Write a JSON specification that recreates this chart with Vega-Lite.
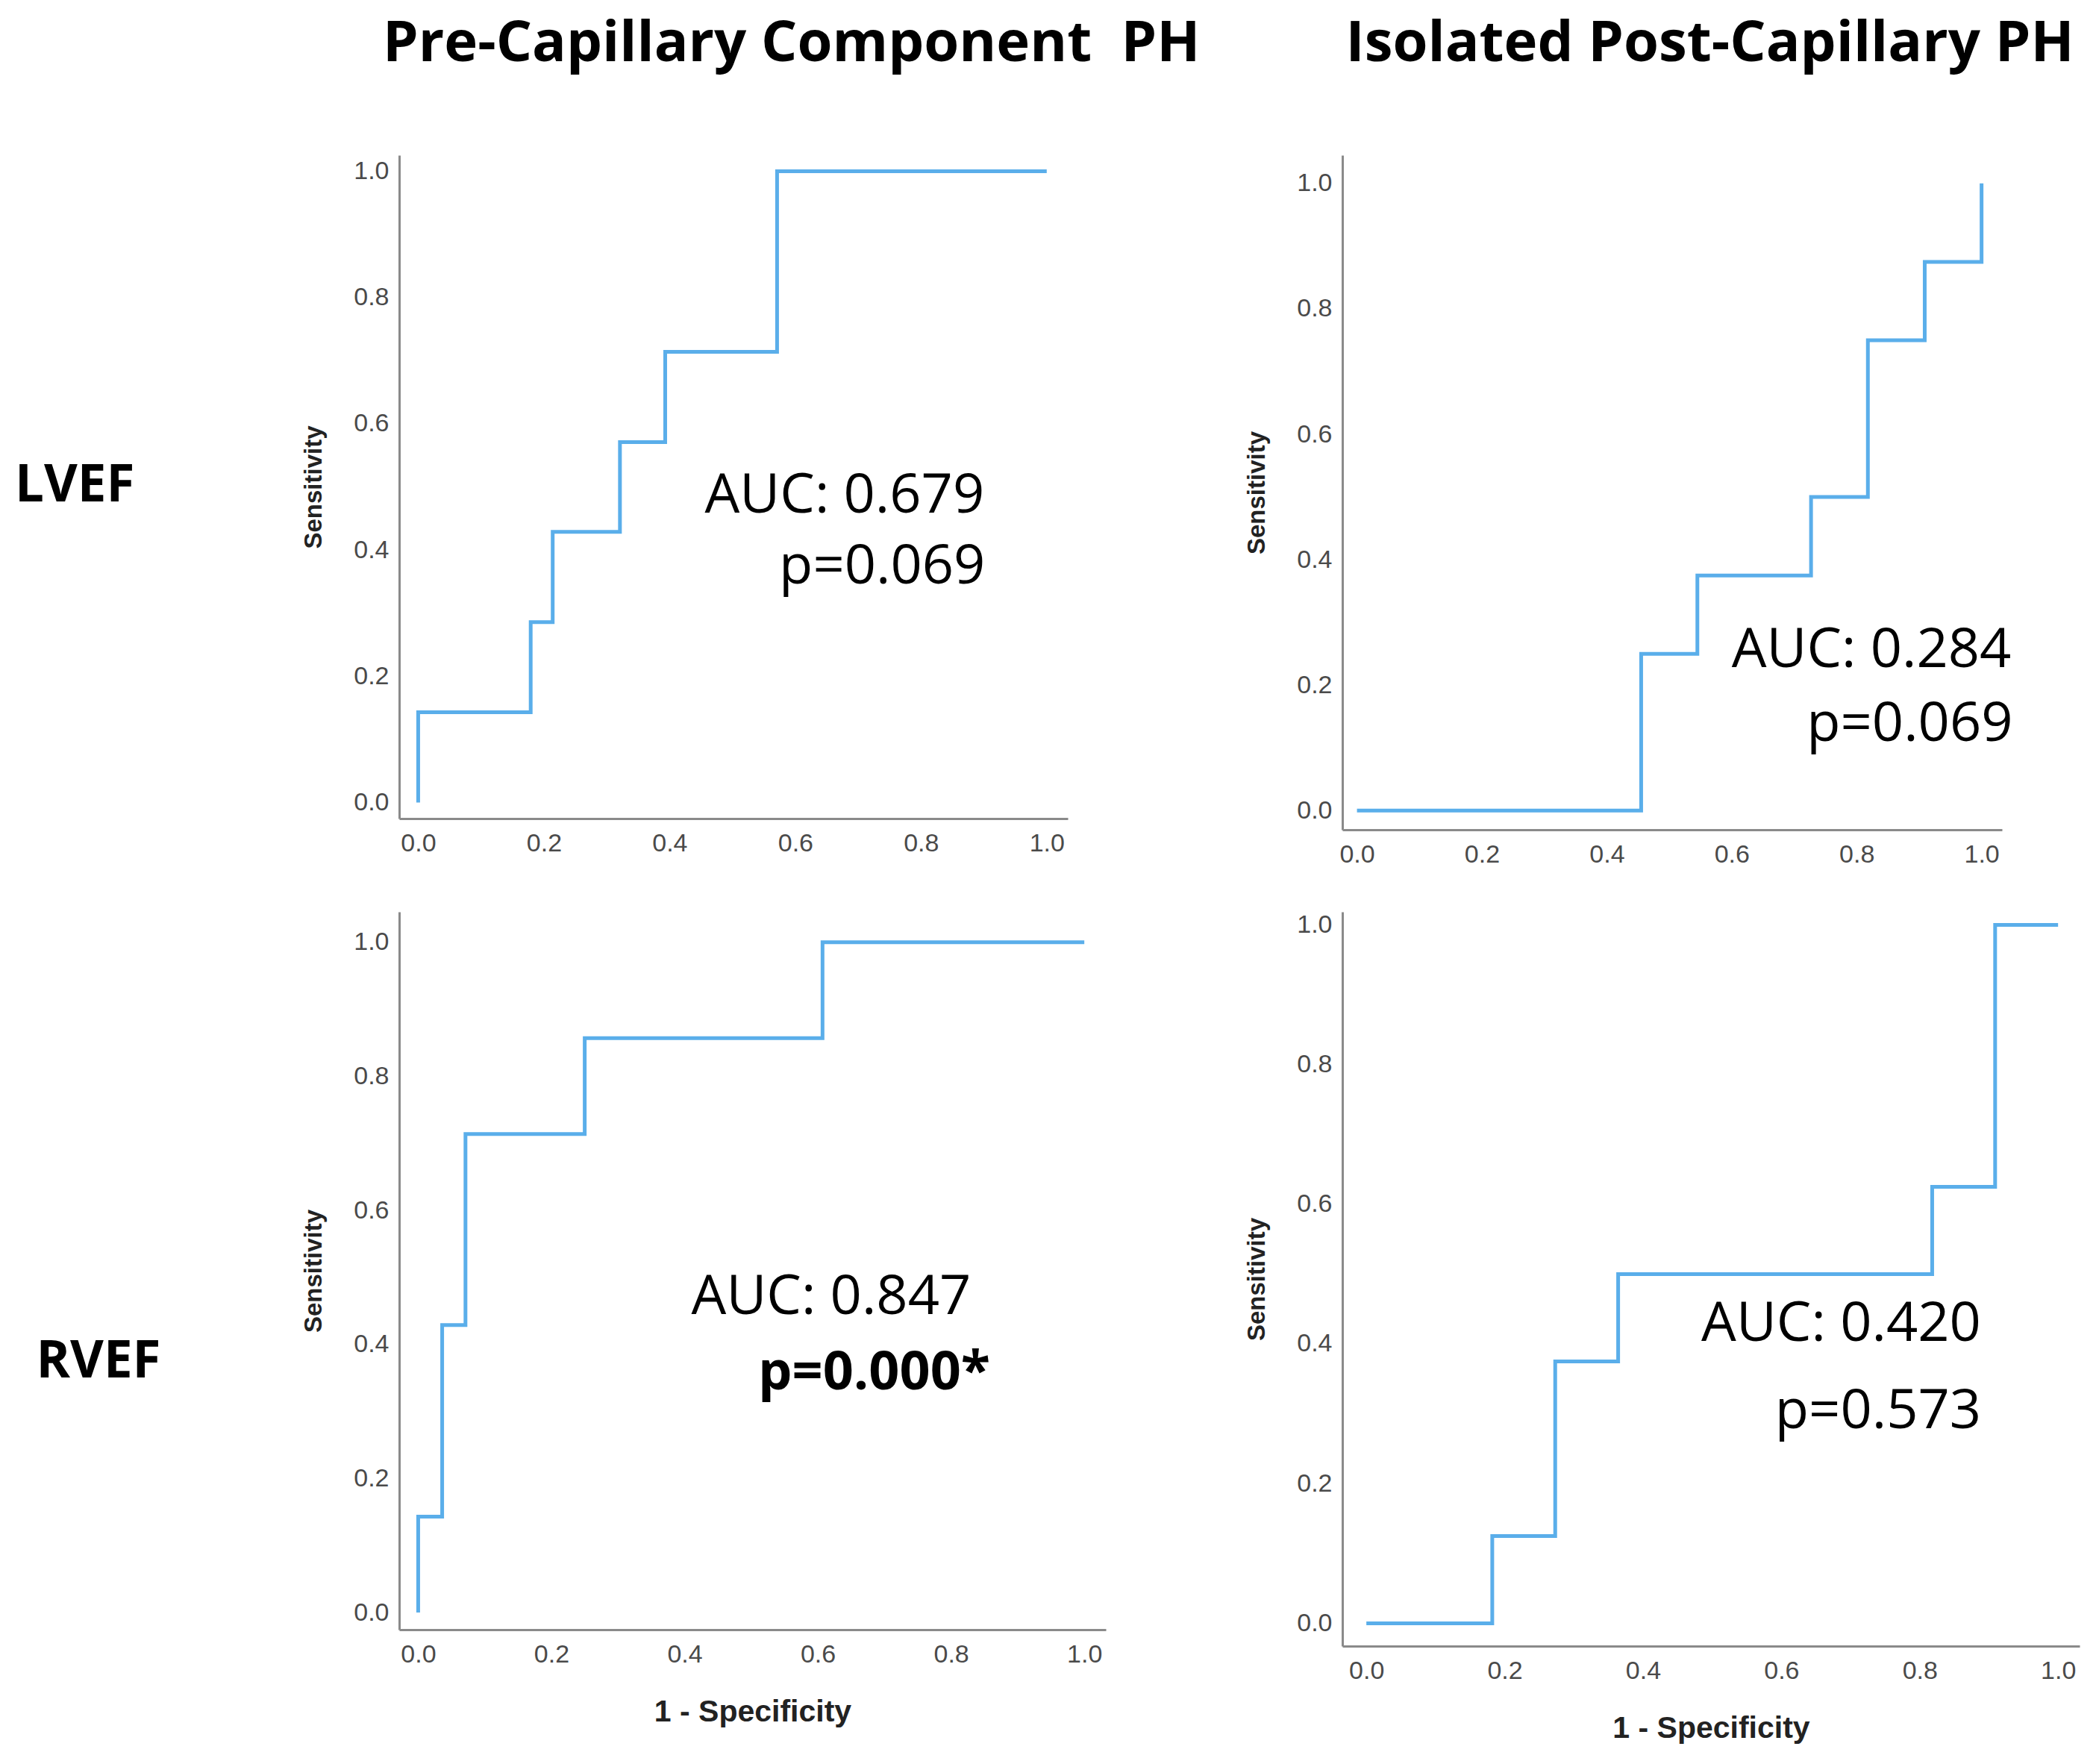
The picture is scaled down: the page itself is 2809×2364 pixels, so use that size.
{
  "$schema": "https://vega.github.io/schema/vega-lite/v6.json",
  "background": "white",
  "autosize": {"type": "pad"},
  "padding": {"left": 19, "top": 20, "right": 5, "bottom": 5},
  "datasets": {
    "roc": [
      {"panel": "TL", "order": 1, "fpr": 0, "tpr": 0},
      {"panel": "TL", "order": 2, "fpr": 0, "tpr": 0.143},
      {"panel": "TL", "order": 3, "fpr": 0.179, "tpr": 0.143},
      {"panel": "TL", "order": 4, "fpr": 0.179, "tpr": 0.286},
      {"panel": "TL", "order": 5, "fpr": 0.214, "tpr": 0.286},
      {"panel": "TL", "order": 6, "fpr": 0.214, "tpr": 0.429},
      {"panel": "TL", "order": 7, "fpr": 0.321, "tpr": 0.429},
      {"panel": "TL", "order": 8, "fpr": 0.321, "tpr": 0.571},
      {"panel": "TL", "order": 9, "fpr": 0.393, "tpr": 0.571},
      {"panel": "TL", "order": 10, "fpr": 0.393, "tpr": 0.714},
      {"panel": "TL", "order": 11, "fpr": 0.571, "tpr": 0.714},
      {"panel": "TL", "order": 12, "fpr": 0.571, "tpr": 1},
      {"panel": "TL", "order": 13, "fpr": 1, "tpr": 1},
      {"panel": "TR", "order": 1, "fpr": 0, "tpr": 0},
      {"panel": "TR", "order": 2, "fpr": 0.455, "tpr": 0},
      {"panel": "TR", "order": 3, "fpr": 0.455, "tpr": 0.25},
      {"panel": "TR", "order": 4, "fpr": 0.545, "tpr": 0.25},
      {"panel": "TR", "order": 5, "fpr": 0.545, "tpr": 0.375},
      {"panel": "TR", "order": 6, "fpr": 0.727, "tpr": 0.375},
      {"panel": "TR", "order": 7, "fpr": 0.727, "tpr": 0.5},
      {"panel": "TR", "order": 8, "fpr": 0.818, "tpr": 0.5},
      {"panel": "TR", "order": 9, "fpr": 0.818, "tpr": 0.75},
      {"panel": "TR", "order": 10, "fpr": 0.909, "tpr": 0.75},
      {"panel": "TR", "order": 11, "fpr": 0.909, "tpr": 0.875},
      {"panel": "TR", "order": 12, "fpr": 1, "tpr": 0.875},
      {"panel": "TR", "order": 13, "fpr": 1, "tpr": 1},
      {"panel": "BL", "order": 1, "fpr": 0, "tpr": 0},
      {"panel": "BL", "order": 2, "fpr": 0, "tpr": 0.143},
      {"panel": "BL", "order": 3, "fpr": 0.036, "tpr": 0.143},
      {"panel": "BL", "order": 4, "fpr": 0.036, "tpr": 0.429},
      {"panel": "BL", "order": 5, "fpr": 0.071, "tpr": 0.429},
      {"panel": "BL", "order": 6, "fpr": 0.071, "tpr": 0.714},
      {"panel": "BL", "order": 7, "fpr": 0.25, "tpr": 0.714},
      {"panel": "BL", "order": 8, "fpr": 0.25, "tpr": 0.857},
      {"panel": "BL", "order": 9, "fpr": 0.607, "tpr": 0.857},
      {"panel": "BL", "order": 10, "fpr": 0.607, "tpr": 1},
      {"panel": "BL", "order": 11, "fpr": 1, "tpr": 1},
      {"panel": "BR", "order": 1, "fpr": 0, "tpr": 0},
      {"panel": "BR", "order": 2, "fpr": 0.182, "tpr": 0},
      {"panel": "BR", "order": 3, "fpr": 0.182, "tpr": 0.125},
      {"panel": "BR", "order": 4, "fpr": 0.273, "tpr": 0.125},
      {"panel": "BR", "order": 5, "fpr": 0.273, "tpr": 0.375},
      {"panel": "BR", "order": 6, "fpr": 0.364, "tpr": 0.375},
      {"panel": "BR", "order": 7, "fpr": 0.364, "tpr": 0.5},
      {"panel": "BR", "order": 8, "fpr": 0.818, "tpr": 0.5},
      {"panel": "BR", "order": 9, "fpr": 0.818, "tpr": 0.625},
      {"panel": "BR", "order": 10, "fpr": 0.909, "tpr": 0.625},
      {"panel": "BR", "order": 11, "fpr": 0.909, "tpr": 1},
      {"panel": "BR", "order": 12, "fpr": 1, "tpr": 1}
    ],
    "notes": [
      {"panel": "TL", "header": "Pre-Capillary Component\u00a0 PH", "row": "LVEF", "auc": "AUC: 0.679", "p": "p=0.069"},
      {"panel": "TR", "header": "Isolated Post-Capillary PH", "row": "", "auc": "AUC: 0.284", "p": "p=0.069"},
      {"panel": "BL", "header": "", "row": "RVEF", "auc": "AUC: 0.847", "p": "p=0.000*"},
      {"panel": "BR", "header": "", "row": "", "auc": "AUC: 0.420", "p": "p=0.573"}
    ]
  },
  "config": {
    "view": {"stroke": null},
    "axis": {
      "domainColor": "#8a8a8a", "domainWidth": 3, "ticks": false, "tickSize": 0, "grid": false,
      "labelColor": "#4a4a4a", "labelFont": "Liberation Sans", "labelFontSize": 34,
      "labelFlush": false, "labelOverlap": false, "labelBound": false,
      "titleFont": "Liberation Sans", "titleFontWeight": "bold", "titleColor": "#222222"
    },
    "axisX": {"labelPadding": 16, "titleFontSize": 41, "titlePadding": 40},
    "axisY": {"labelPadding": 14, "titleFontSize": 33, "titlePadding": 36}
  },
  "columns": 2,
  "spacing": {"row": 110, "column": 317},
  "bounds": "flush",
  "align": "each",
  "concat": [
    {
      "width": 896, "height": 889,
      "layer": [
        {
          "data": {"name": "roc"},
          "transform": [{"filter": "datum.panel === 'TL'"}],
          "mark": {"type": "line", "color": "#5aaeea", "strokeWidth": 5},
          "encoding": {
            "x": {"field": "fpr", "type": "quantitative", "scale": {"domain": [-0.0302, 1.0335], "nice": false, "zero": false}, "axis": {"values": [0, 0.2, 0.4, 0.6, 0.8, 1], "format": ".1f", "title": null}},
            "y": {"field": "tpr", "type": "quantitative", "scale": {"domain": [-0.0253, 1.0255], "nice": false, "zero": false}, "axis": {"values": [0, 0.2, 0.4, 0.6, 0.8, 1], "format": ".1f", "title": "Sensitivity"}},
            "order": {"field": "order"}
          }
        },
        {
          "data": {"name": "notes"},
          "transform": [{"filter": "datum.panel === 'TL'"}],
          "mark": {"type": "text", "font": "Open Sans", "fontWeight": "bold", "fontSize": 76, "align": "center", "baseline": "alphabetic", "color": "#000000"},
          "encoding": {
            "x": {"datum": 0.594, "type": "quantitative", "scale": {"domain": [-0.0302, 1.0335], "nice": false, "zero": false}, "axis": {"values": [0, 0.2, 0.4, 0.6, 0.8, 1], "format": ".1f", "title": null}},
            "y": {"datum": 1.1745, "type": "quantitative", "scale": {"domain": [-0.0253, 1.0255], "nice": false, "zero": false}, "axis": {"values": [0, 0.2, 0.4, 0.6, 0.8, 1], "format": ".1f", "title": "Sensitivity"}},
            "text": {"field": "header"}
          }
        },
        {
          "data": {"name": "notes"},
          "transform": [{"filter": "datum.panel === 'TL'"}],
          "mark": {"type": "text", "font": "Open Sans", "fontWeight": "bold", "fontSize": 69, "align": "center", "baseline": "alphabetic", "color": "#000000"},
          "encoding": {
            "x": {"datum": -0.5465, "type": "quantitative", "scale": {"domain": [-0.0302, 1.0335], "nice": false, "zero": false}, "axis": {"values": [0, 0.2, 0.4, 0.6, 0.8, 1], "format": ".1f", "title": null}},
            "y": {"datum": 0.477, "type": "quantitative", "scale": {"domain": [-0.0253, 1.0255], "nice": false, "zero": false}, "axis": {"values": [0, 0.2, 0.4, 0.6, 0.8, 1], "format": ".1f", "title": "Sensitivity"}},
            "text": {"field": "row"}
          }
        },
        {
          "data": {"name": "notes"},
          "transform": [{"filter": "datum.panel === 'TL'"}],
          "mark": {"type": "text", "font": "Open Sans", "fontSize": 74, "align": "center", "baseline": "alphabetic", "color": "#000000"},
          "encoding": {
            "x": {"datum": 0.6784, "type": "quantitative", "scale": {"domain": [-0.0302, 1.0335], "nice": false, "zero": false}, "axis": {"values": [0, 0.2, 0.4, 0.6, 0.8, 1], "format": ".1f", "title": null}},
            "y": {"datum": 0.4596, "type": "quantitative", "scale": {"domain": [-0.0253, 1.0255], "nice": false, "zero": false}, "axis": {"values": [0, 0.2, 0.4, 0.6, 0.8, 1], "format": ".1f", "title": "Sensitivity"}},
            "text": {"field": "auc"}
          }
        },
        {
          "data": {"name": "notes"},
          "transform": [{"filter": "datum.panel === 'TL'"}],
          "mark": {"type": "text", "font": "Open Sans", "fontSize": 74, "align": "center", "baseline": "alphabetic", "color": "#000000"},
          "encoding": {
            "x": {"datum": 0.7382, "type": "quantitative", "scale": {"domain": [-0.0302, 1.0335], "nice": false, "zero": false}, "axis": {"values": [0, 0.2, 0.4, 0.6, 0.8, 1], "format": ".1f", "title": null}},
            "y": {"datum": 0.3468, "type": "quantitative", "scale": {"domain": [-0.0253, 1.0255], "nice": false, "zero": false}, "axis": {"values": [0, 0.2, 0.4, 0.6, 0.8, 1], "format": ".1f", "title": "Sensitivity"}},
            "text": {"field": "p"}
          }
        }
      ]
    },
    {
      "width": 884, "height": 904,
      "layer": [
        {
          "data": {"name": "roc"},
          "transform": [{"filter": "datum.panel === 'TR'"}],
          "mark": {"type": "line", "color": "#5aaeea", "strokeWidth": 5},
          "encoding": {
            "x": {"field": "fpr", "type": "quantitative", "scale": {"domain": [-0.0234, 1.0327], "nice": false, "zero": false}, "axis": {"values": [0, 0.2, 0.4, 0.6, 0.8, 1], "format": ".1f", "title": null}},
            "y": {"field": "tpr", "type": "quantitative", "scale": {"domain": [-0.0305, 1.045], "nice": false, "zero": false}, "axis": {"values": [0, 0.2, 0.4, 0.6, 0.8, 1], "format": ".1f", "title": "Sensitivity"}},
            "order": {"field": "order"}
          }
        },
        {
          "data": {"name": "notes"},
          "transform": [{"filter": "datum.panel === 'TR'"}],
          "mark": {"type": "text", "font": "Open Sans", "fontWeight": "bold", "fontSize": 76, "align": "center", "baseline": "alphabetic", "color": "#000000"},
          "encoding": {
            "x": {"datum": 0.565, "type": "quantitative", "scale": {"domain": [-0.0234, 1.0327], "nice": false, "zero": false}, "axis": {"values": [0, 0.2, 0.4, 0.6, 0.8, 1], "format": ".1f", "title": null}},
            "y": {"datum": 1.1949, "type": "quantitative", "scale": {"domain": [-0.0305, 1.045], "nice": false, "zero": false}, "axis": {"values": [0, 0.2, 0.4, 0.6, 0.8, 1], "format": ".1f", "title": "Sensitivity"}},
            "text": {"field": "header"}
          }
        },
        {
          "data": {"name": "notes"},
          "transform": [{"filter": "datum.panel === 'TR'"}],
          "mark": {"type": "text", "font": "Open Sans", "fontSize": 74, "align": "center", "baseline": "alphabetic", "color": "#000000"},
          "encoding": {
            "x": {"datum": 0.8237, "type": "quantitative", "scale": {"domain": [-0.0234, 1.0327], "nice": false, "zero": false}, "axis": {"values": [0, 0.2, 0.4, 0.6, 0.8, 1], "format": ".1f", "title": null}},
            "y": {"datum": 0.229, "type": "quantitative", "scale": {"domain": [-0.0305, 1.045], "nice": false, "zero": false}, "axis": {"values": [0, 0.2, 0.4, 0.6, 0.8, 1], "format": ".1f", "title": "Sensitivity"}},
            "text": {"field": "auc"}
          }
        },
        {
          "data": {"name": "notes"},
          "transform": [{"filter": "datum.panel === 'TR'"}],
          "mark": {"type": "text", "font": "Open Sans", "fontSize": 74, "align": "center", "baseline": "alphabetic", "color": "#000000"},
          "encoding": {
            "x": {"datum": 0.885, "type": "quantitative", "scale": {"domain": [-0.0234, 1.0327], "nice": false, "zero": false}, "axis": {"values": [0, 0.2, 0.4, 0.6, 0.8, 1], "format": ".1f", "title": null}},
            "y": {"datum": 0.1113, "type": "quantitative", "scale": {"domain": [-0.0305, 1.045], "nice": false, "zero": false}, "axis": {"values": [0, 0.2, 0.4, 0.6, 0.8, 1], "format": ".1f", "title": "Sensitivity"}},
            "text": {"field": "p"}
          }
        }
      ]
    },
    {
      "width": 947, "height": 962,
      "layer": [
        {
          "data": {"name": "roc"},
          "transform": [{"filter": "datum.panel === 'BL'"}],
          "mark": {"type": "line", "color": "#5aaeea", "strokeWidth": 5},
          "encoding": {
            "x": {"field": "fpr", "type": "quantitative", "scale": {"domain": [-0.0285, 1.0323], "nice": false, "zero": false}, "axis": {"values": [0, 0.2, 0.4, 0.6, 0.8, 1], "format": ".1f", "title": "1 - Specificity"}},
            "y": {"field": "tpr", "type": "quantitative", "scale": {"domain": [-0.0256, 1.0454], "nice": false, "zero": false}, "axis": {"values": [0, 0.2, 0.4, 0.6, 0.8, 1], "format": ".1f", "title": "Sensitivity"}},
            "order": {"field": "order"}
          }
        },
        {
          "data": {"name": "notes"},
          "transform": [{"filter": "datum.panel === 'BL'"}],
          "mark": {"type": "text", "font": "Open Sans", "fontWeight": "bold", "fontSize": 69, "align": "center", "baseline": "alphabetic", "color": "#000000"},
          "encoding": {
            "x": {"datum": -0.48, "type": "quantitative", "scale": {"domain": [-0.0285, 1.0323], "nice": false, "zero": false}, "axis": {"values": [0, 0.2, 0.4, 0.6, 0.8, 1], "format": ".1f", "title": "1 - Specificity"}},
            "y": {"datum": 0.3507, "type": "quantitative", "scale": {"domain": [-0.0256, 1.0454], "nice": false, "zero": false}, "axis": {"values": [0, 0.2, 0.4, 0.6, 0.8, 1], "format": ".1f", "title": "Sensitivity"}},
            "text": {"field": "row"}
          }
        },
        {
          "data": {"name": "notes"},
          "transform": [{"filter": "datum.panel === 'BL'"}],
          "mark": {"type": "text", "font": "Open Sans", "fontSize": 74, "align": "center", "baseline": "alphabetic", "color": "#000000"},
          "encoding": {
            "x": {"datum": 0.62, "type": "quantitative", "scale": {"domain": [-0.0285, 1.0323], "nice": false, "zero": false}, "axis": {"values": [0, 0.2, 0.4, 0.6, 0.8, 1], "format": ".1f", "title": "1 - Specificity"}},
            "y": {"datum": 0.4449, "type": "quantitative", "scale": {"domain": [-0.0256, 1.0454], "nice": false, "zero": false}, "axis": {"values": [0, 0.2, 0.4, 0.6, 0.8, 1], "format": ".1f", "title": "Sensitivity"}},
            "text": {"field": "auc"}
          }
        },
        {
          "data": {"name": "notes"},
          "transform": [{"filter": "datum.panel === 'BL'"}],
          "mark": {"type": "text", "font": "Open Sans", "fontWeight": "bold", "fontSize": 72, "align": "center", "baseline": "alphabetic", "color": "#000000"},
          "encoding": {
            "x": {"datum": 0.6845, "type": "quantitative", "scale": {"domain": [-0.0285, 1.0323], "nice": false, "zero": false}, "axis": {"values": [0, 0.2, 0.4, 0.6, 0.8, 1], "format": ".1f", "title": "1 - Specificity"}},
            "y": {"datum": 0.3327, "type": "quantitative", "scale": {"domain": [-0.0256, 1.0454], "nice": false, "zero": false}, "axis": {"values": [0, 0.2, 0.4, 0.6, 0.8, 1], "format": ".1f", "title": "Sensitivity"}},
            "text": {"field": "p"}
          }
        }
      ]
    },
    {
      "width": 988, "height": 984,
      "layer": [
        {
          "data": {"name": "roc"},
          "transform": [{"filter": "datum.panel === 'BR'"}],
          "mark": {"type": "line", "color": "#5aaeea", "strokeWidth": 5},
          "encoding": {
            "x": {"field": "fpr", "type": "quantitative", "scale": {"domain": [-0.0347, 1.0311], "nice": false, "zero": false}, "axis": {"values": [0, 0.2, 0.4, 0.6, 0.8, 1], "format": ".1f", "title": "1 - Specificity"}},
            "y": {"field": "tpr", "type": "quantitative", "scale": {"domain": [-0.0327, 1.0186], "nice": false, "zero": false}, "axis": {"values": [0, 0.2, 0.4, 0.6, 0.8, 1], "format": ".1f", "title": "Sensitivity"}},
            "order": {"field": "order"}
          }
        },
        {
          "data": {"name": "notes"},
          "transform": [{"filter": "datum.panel === 'BR'"}],
          "mark": {"type": "text", "font": "Open Sans", "fontSize": 74, "align": "center", "baseline": "alphabetic", "color": "#000000"},
          "encoding": {
            "x": {"datum": 0.6864, "type": "quantitative", "scale": {"domain": [-0.0347, 1.0311], "nice": false, "zero": false}, "axis": {"values": [0, 0.2, 0.4, 0.6, 0.8, 1], "format": ".1f", "title": "1 - Specificity"}},
            "y": {"datum": 0.4038, "type": "quantitative", "scale": {"domain": [-0.0327, 1.0186], "nice": false, "zero": false}, "axis": {"values": [0, 0.2, 0.4, 0.6, 0.8, 1], "format": ".1f", "title": "Sensitivity"}},
            "text": {"field": "auc"}
          }
        },
        {
          "data": {"name": "notes"},
          "transform": [{"filter": "datum.panel === 'BR'"}],
          "mark": {"type": "text", "font": "Open Sans", "fontSize": 74, "align": "center", "baseline": "alphabetic", "color": "#000000"},
          "encoding": {
            "x": {"datum": 0.7398, "type": "quantitative", "scale": {"domain": [-0.0347, 1.0311], "nice": false, "zero": false}, "axis": {"values": [0, 0.2, 0.4, 0.6, 0.8, 1], "format": ".1f", "title": "1 - Specificity"}},
            "y": {"datum": 0.2788, "type": "quantitative", "scale": {"domain": [-0.0327, 1.0186], "nice": false, "zero": false}, "axis": {"values": [0, 0.2, 0.4, 0.6, 0.8, 1], "format": ".1f", "title": "Sensitivity"}},
            "text": {"field": "p"}
          }
        }
      ]
    }
  ]
}
